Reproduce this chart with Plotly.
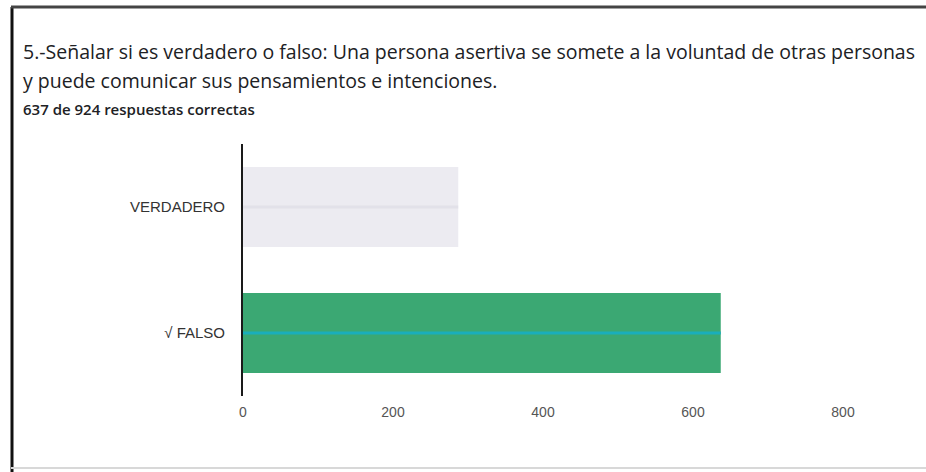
import plotly.graph_objects as go

categories = ["VERDADERO", "√ FALSO"]
counts = [287, 637]
bar_colors = ["#ecebf1", "#3ba873"]
center_line_colors = ["rgba(215,215,225,0.5)", "#1aaebb"]
x_ticks = [0, 200, 400, 600, 800]

title_line1 = "5.-Señalar si es verdadero o falso: Una persona asertiva se somete a la voluntad de otras personas"
title_line2 = "y puede comunicar sus pensamientos e intenciones."
subtitle = "637 de 924 respuestas correctas"

W, H = 926, 472
L, R, T, B = 243, 23, 144, 76

fig = go.Figure()
fig.add_trace(go.Bar(
    y=categories, x=counts, orientation="h",
    marker=dict(color=bar_colors, line=dict(width=0)),
    width=0.635, hoverinfo="x+y", showlegend=False,
))
for cat, val, col in zip(categories, counts, center_line_colors):
    fig.add_trace(go.Scatter(
        y=[cat, cat], x=[0, val], mode="lines",
        line=dict(color=col, width=3), hoverinfo="skip", showlegend=False,
    ))

fig.update_layout(
    width=W, height=H,
    margin=dict(l=L, r=R, t=T, b=B),
    paper_bgcolor="white", plot_bgcolor="white",
    font=dict(family="Liberation Sans, Arial, sans-serif", color="#333333", size=12),
    xaxis=dict(range=[0, 880], tickvals=x_ticks, showgrid=False, zeroline=False,
               showline=False, ticks="", tickfont=dict(size=14, color="#555555"),
               ticklabelstandoff=6, fixedrange=True),
    yaxis=dict(autorange="reversed", showgrid=False, zeroline=False,
               showline=True, linecolor="#1a1a1a", linewidth=2, ticks="",
               tickfont=dict(size=15, color="#333333"), ticklabelstandoff=13,
               fixedrange=True),
    bargap=0.365,
)

def px_x(x):
    return (x - L) / (W - L - R)

def px_y(y):
    return 1 - (y - T) / (H - T - B)

title_font = dict(family="Open Sans, sans-serif", size=19.5, color="#202124")
fig.add_annotation(text=title_line1, xref="paper", yref="paper",
                   x=px_x(21), y=px_y(51), xanchor="left", yanchor="middle",
                   showarrow=False, font=title_font)
fig.add_annotation(text=title_line2, xref="paper", yref="paper",
                   x=px_x(21), y=px_y(80), xanchor="left", yanchor="middle",
                   showarrow=False, font=title_font)
fig.add_annotation(text=subtitle, xref="paper", yref="paper",
                   x=px_x(21), y=px_y(109), xanchor="left", yanchor="middle",
                   showarrow=False, font=dict(family="Open Sans, sans-serif", size=15, weight=600, color="#202124"))

# scanned frame edges
fig.add_shape(type="line", xref="paper", yref="paper",
              x0=px_x(12), x1=px_x(12), y0=px_y(7), y1=px_y(472),
              line=dict(color="#111111", width=3))
fig.add_shape(type="line", xref="paper", yref="paper",
              x0=px_x(11), x1=px_x(926), y0=px_y(7), y1=px_y(7),
              line=dict(color="#444444", width=3))
fig.add_shape(type="line", xref="paper", yref="paper",
              x0=px_x(11), x1=px_x(926), y0=px_y(468), y1=px_y(468),
              line=dict(color="#d8d8d8", width=2))

fig.write_html("out.html", config={"displayModeBar": False},
               post_script="document.body.style.margin='0';document.body.style.overflow='hidden';")
